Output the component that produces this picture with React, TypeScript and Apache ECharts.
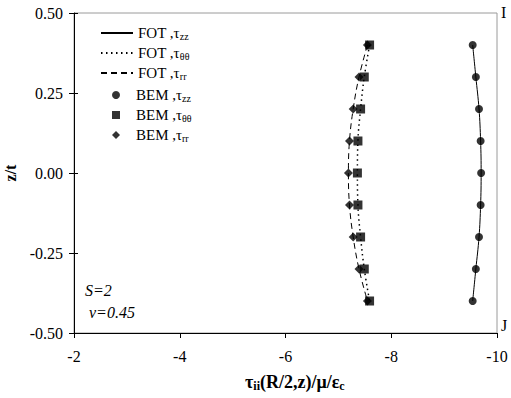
import React, { useEffect, useRef } from "react";
import * as echarts from "echarts";

const zValues = [0.4, 0.3, 0.2, 0.1, 0.0, -0.1, -0.2, -0.3, -0.4];
const fotZZ = [-9.54, -9.6, -9.66, -9.69, -9.7, -9.69, -9.66, -9.6, -9.54];
const fotTT = [-7.59, -7.49, -7.42, -7.37, -7.36, -7.37, -7.42, -7.49, -7.59];
const fotRR = [-7.55, -7.39, -7.28, -7.21, -7.19, -7.21, -7.28, -7.39, -7.55];
const bemZZ = [-9.54, -9.6, -9.66, -9.69, -9.7, -9.69, -9.66, -9.6, -9.54];
const bemTT = [-7.59, -7.49, -7.42, -7.37, -7.36, -7.37, -7.42, -7.49, -7.59];
const bemRR = [-7.55, -7.39, -7.28, -7.21, -7.19, -7.21, -7.28, -7.39, -7.55];
const yTicks = [-0.5, -0.25, 0, 0.25, 0.5];
const legendLabels: Record<string, [string, string]> = {
  "FOT zz": ["FOT ,τ", "zz"],
  "FOT tt": ["FOT ,τ", "θθ"],
  "FOT rr": ["FOT ,τ", "rr"],
  "BEM zz": ["BEM ,τ", "zz"],
  "BEM tt": ["BEM ,τ", "θθ"],
  "BEM rr": ["BEM ,τ", "rr"],
};

const FONT = "Liberation Serif";
const pair = (xs: number[]) => xs.map((x, i) => [x, zValues[i]]);

export default function App() {
  const ref = useRef<HTMLDivElement>(null);
  useEffect(() => {
    if (!ref.current) return;
    const chart = echarts.init(ref.current, undefined, { renderer: "svg" });
    const hiddenSym = { color: "rgba(0,0,0,0)", borderWidth: 0 };
    const legendText = (padLeft: number) => ({
      fontFamily: FONT,
      fontSize: 15,
      color: "#000",
      lineHeight: 16,
      rich: {
        a: { fontFamily: FONT, fontSize: 15, color: "#000", lineHeight: 16, padding: [0, 0, 0, padLeft] },
        s: { fontFamily: FONT, fontSize: 10, color: "#000", lineHeight: 16, padding: [6, 0, 0, 0] },
      },
    });
    const fmt = (name: string) => {
      const [a, s] = legendLabels[name];
      return `{a|${a}}{s|${s}}`;
    };
    chart.setOption({
      animation: false,
      backgroundColor: "#fff",
      textStyle: { fontFamily: FONT, color: "#000" },
      grid: {
        left: 74,
        top: 13,
        width: 423,
        height: 320,
        containLabel: false,
        outerBoundsMode: "none",
        show: true,
        borderColor: "#9a9a9a",
        borderWidth: 1,
      },
      legend: [
        {
          orient: "vertical",
          left: 100,
          top: 25,
          padding: 0,
          itemWidth: 32,
          itemHeight: 8,
          itemGap: 4,
          data: [
            { name: "FOT zz", itemStyle: hiddenSym },
            { name: "FOT tt", itemStyle: hiddenSym },
            { name: "FOT rr", itemStyle: hiddenSym },
          ],
          formatter: fmt,
          textStyle: legendText(0),
        },
        {
          orient: "vertical",
          left: 112,
          top: 87,
          padding: 0,
          itemWidth: 8,
          itemHeight: 8,
          itemGap: 4,
          data: [
            { name: "BEM zz", icon: "circle" },
            { name: "BEM tt", icon: "rect" },
            { name: "BEM rr", icon: "diamond" },
          ],
          formatter: fmt,
          textStyle: legendText(11),
        },
      ],
      xAxis: {
        type: "value",
        inverse: true,
        min: -10,
        max: -2,
        interval: 2,
        axisLine: { show: true, onZero: false, lineStyle: { color: "#000", width: 1 } },
        axisTick: { show: true, inside: false, length: 5, lineStyle: { color: "#000" } },
        axisLabel: { fontFamily: FONT, fontSize: 16, color: "#000", margin: 15 },
        splitLine: { show: false },
      },
      yAxis: [
        {
          type: "value",
          min: -0.5,
          max: 0.5,
          interval: 0.25,
          name: "z/t",
          nameLocation: "middle",
          nameGap: 55,
          nameRotate: 90,
          nameTextStyle: { fontFamily: FONT, fontSize: 16, fontWeight: "bold", color: "#000" },
          axisLine: { show: true, onZero: false, lineStyle: { color: "#000", width: 1 } },
          axisTick: { show: true, inside: false, length: 5, lineStyle: { color: "#000" } },
          axisLabel: {
            fontFamily: FONT,
            fontSize: 16,
            color: "#000",
            margin: 11,
            formatter: (v: number) => (yTicks.includes(v) ? v.toFixed(2) : ""),
          },
          splitLine: { show: false },
        },
        {
          type: "value",
          position: "left",
          min: -0.5,
          max: 0.5,
          interval: 0.25,
          axisLine: { show: false, onZero: false },
          axisTick: { show: true, inside: true, length: 4, lineStyle: { color: "#000" } },
          axisLabel: { show: false },
          splitLine: { show: false },
        },
      ],
      graphic: [
        {
          type: "text",
          left: 245,
          top: 372,
          style: {
            text: "{b|τ}{s|ii}{b|(R/2,z)/μ/ε}{s|c}",
            rich: {
              b: { fontFamily: FONT, fontSize: 18, fontWeight: "bold", fill: "#000", lineHeight: 22 },
              s: { fontFamily: FONT, fontSize: 12, fontWeight: "bold", fill: "#000", lineHeight: 22, padding: [8, 0, 0, 0] },
            },
          },
        },
        { type: "text", left: 85, top: 282, style: { text: "S=2", font: `italic 16px '${FONT}'`, fill: "#000" } },
        { type: "text", left: 89, top: 304, style: { text: "ν=0.45", font: `italic 16px '${FONT}'`, fill: "#000" } },
        { type: "text", left: 501, top: 4, style: { text: "I", font: `16px '${FONT}'`, fill: "#000" } },
        { type: "text", left: 501, top: 317, style: { text: "J", font: `16px '${FONT}'`, fill: "#000" } },
      ],
      series: [
        {
          name: "FOT zz",
          type: "line",
          data: pair(fotZZ),
          smooth: 0.4,
          symbol: "none",
          lineStyle: { color: "#000", width: 1, type: "solid" },
          itemStyle: { color: "#000" },
        },
        {
          name: "FOT tt",
          type: "line",
          data: pair(fotTT),
          smooth: 0.4,
          symbol: "none",
          lineStyle: { color: "#000", width: 1.5, type: [1.5, 3.5] },
          itemStyle: { color: "#000" },
        },
        {
          name: "FOT rr",
          type: "line",
          data: pair(fotRR),
          smooth: 0.4,
          symbol: "none",
          lineStyle: { color: "#000", width: 1, type: [6, 4] },
          itemStyle: { color: "#000" },
        },
        {
          name: "BEM zz",
          type: "scatter",
          data: pair(bemZZ),
          symbol: "circle",
          symbolSize: 8,
          itemStyle: { color: "#000" },
        },
        {
          name: "BEM rr",
          type: "scatter",
          data: pair(bemRR),
          symbol: "diamond",
          symbolSize: 9,
          itemStyle: { color: "#000" },
        },
        {
          name: "BEM tt",
          type: "scatter",
          data: pair(bemTT),
          symbol: "rect",
          symbolSize: 9,
          itemStyle: { color: "#000" },
        },
      ],
    });
    return () => chart.dispose();
  }, []);
  return (
    <div
      ref={ref}
      style={{ position: "absolute", left: 0, top: 0, width: 511, height: 398 }}
    />
  );
}
